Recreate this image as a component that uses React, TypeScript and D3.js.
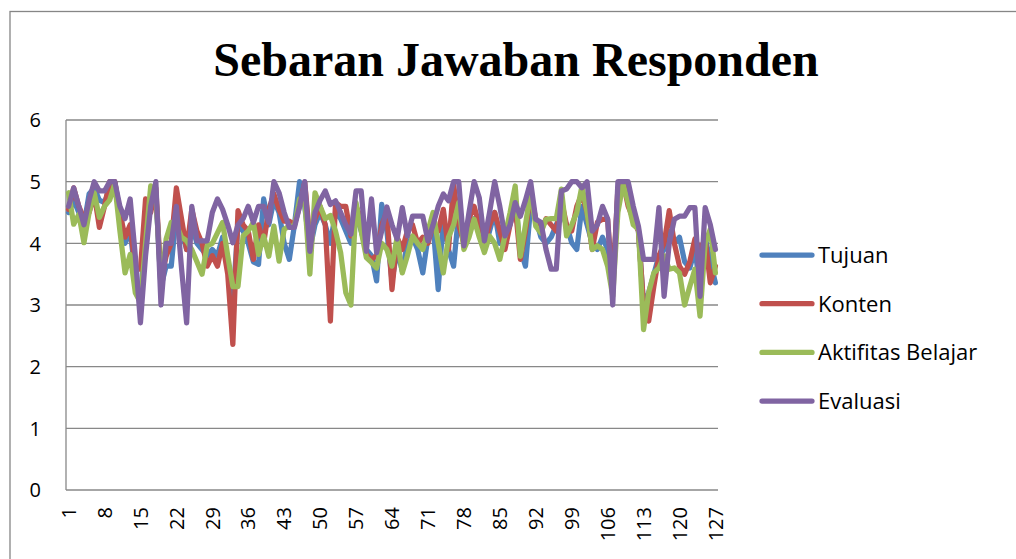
import React from "react";
import * as d3 from "d3";

// responden 1..127
const respondents = d3.range(1, 128);
const xTickLabels = [1, 8, 15, 22, 29, 36, 43, 50, 57, 64, 71, 78, 85, 92, 99, 106, 113, 120, 127];
const yTicks = [0, 1, 2, 3, 4, 5, 6];

const tujuan = [
  4.5, 4.7, 4.5, 4.3, 4.8, 4.9, 4.7, 4.66, 4.9, 5.0,
  4.5, 4.0, 4.2, 3.5, 3.0, 4.3, 4.6, 4.8, 3.3, 3.63,
  3.63, 4.5, 4.2, 3.9, 4.3, 4.0, 3.9, 3.8, 3.9, 3.8,
  4.1, 3.6, 3.04, 4.3, 4.2, 4.0, 3.7, 3.66, 4.72, 4.3,
  4.7, 4.5, 4.0, 3.74, 4.3, 5.0, 4.6, 3.9, 4.3, 4.5,
  4.3, 4.0, 4.5, 4.4, 4.2, 4.0, 4.5, 4.2, 3.9, 3.8,
  3.39, 4.63, 4.2, 3.39, 3.9, 3.55, 4.0, 4.1, 3.9, 3.52,
  4.1, 4.3, 3.25, 4.4, 3.9, 3.63, 4.5, 4.0, 4.3, 4.4,
  4.2, 3.9, 4.2, 4.5, 4.0, 4.1, 4.4, 4.7, 3.9, 3.63,
  4.6, 4.4, 4.1, 4.0, 4.1, 4.3, 4.5, 4.3, 4.01, 3.9,
  4.6, 4.3, 4.0, 3.9, 4.1, 3.9, 3.3, 4.8, 5.0, 4.8,
  4.5, 4.2, 3.0, 3.2, 3.5, 3.8, 3.9, 4.2, 4.0, 4.1,
  3.7, 3.6, 3.9, 3.3, 4.1, 3.7, 3.36,
];

const konten = [
  4.55, 4.9, 4.6, 4.4, 4.5, 4.8, 4.26, 4.6, 5.0, 5.0,
  4.5, 4.1, 4.3, 3.58, 3.58, 4.72, 4.5, 4.9, 3.4, 3.79,
  4.0, 4.9, 4.4, 3.9, 4.55, 4.2, 4.0, 3.63, 3.8, 3.63,
  4.0, 3.5, 2.36, 4.53, 4.3, 4.2, 3.74, 4.3, 4.0, 4.55,
  4.8, 4.55, 4.36, 4.36, 4.3, 4.6, 4.99, 4.07, 4.4, 4.6,
  4.3, 2.74, 4.66, 4.6, 4.6, 4.12, 4.6, 4.4, 3.82, 3.74,
  3.8, 4.3, 4.5, 3.25, 4.1, 3.9, 4.2, 4.3, 4.0, 4.1,
  4.0, 4.3, 4.2, 4.55, 3.9, 4.96, 4.3, 4.0, 4.4, 4.6,
  4.3, 4.0, 4.3, 4.5, 4.2, 3.9, 4.3, 4.6, 3.74, 4.2,
  4.8, 4.4, 4.2, 4.4, 4.3, 4.2, 4.7, 4.3, 4.2, 4.6,
  4.8, 4.5, 3.9, 4.34, 4.39, 4.39, 3.3, 4.9, 5.0, 4.6,
  4.4, 4.2, 3.0, 2.74, 3.3, 3.8, 4.0, 4.53, 4.0, 3.63,
  3.5, 3.7, 4.07, 3.9, 4.07, 3.36, 3.63,
];

const aktifitas = [
  4.82, 4.31, 4.47, 4.01, 4.5, 4.82, 4.42, 4.6, 4.7, 4.96,
  4.2, 3.52, 3.82, 3.2, 3.04, 4.0, 4.93, 4.8, 3.3, 4.07,
  4.34, 4.3, 4.1, 4.04, 3.9, 3.7, 3.5, 3.96, 4.0, 4.17,
  4.34, 3.8, 3.3, 3.3, 4.12, 4.2, 4.34, 3.82, 4.12, 3.79,
  4.28, 3.71, 4.23, 4.28, 4.28, 4.72, 4.72, 3.5, 4.82, 4.6,
  4.4, 4.45, 4.2, 3.85, 3.2, 3.0, 4.66, 4.2, 3.77, 3.69,
  3.6, 4.0, 3.9, 3.63, 4.1, 3.52, 3.8, 4.12, 4.0, 3.9,
  4.2, 4.5, 4.0, 3.52, 4.1, 4.3, 4.66, 3.9, 4.1, 4.39,
  4.1, 3.85, 4.12, 4.0, 3.74, 4.12, 4.5, 4.93, 3.79, 4.3,
  4.85, 4.28, 4.17, 4.39, 4.4, 4.4, 4.88, 4.12, 4.3, 4.5,
  4.93, 4.5, 3.9, 3.96, 3.9, 3.63, 3.14, 4.5, 4.96, 4.66,
  4.3, 4.23, 2.6, 3.2, 3.52, 3.6, 3.8, 3.58, 3.6, 3.52,
  3.0, 3.3, 3.58, 2.82, 4.0, 4.23, 3.52,
];

const evaluasi = [
  4.6, 4.9, 4.6, 4.3, 4.7, 5.0, 4.85, 4.85, 5.0, 5.0,
  4.6, 4.4, 4.72, 3.8, 2.71, 3.8, 4.6, 5.0, 3.0, 4.0,
  4.0, 4.6, 3.6, 2.71, 4.6, 4.04, 4.04, 4.04, 4.5, 4.72,
  4.55, 4.3, 4.01, 4.3, 4.4, 4.6, 4.34, 4.6, 4.6, 4.34,
  5.0, 4.82, 4.5, 4.26, 4.26, 4.6, 5.0, 3.87, 4.5, 4.7,
  4.85, 4.63, 4.69, 4.5, 4.3, 4.15, 4.85, 4.85, 3.87, 4.72,
  3.85, 4.2, 4.59, 4.3, 4.07, 4.58, 4.12, 4.44, 4.44, 4.44,
  4.04, 4.3, 4.6, 4.8, 4.69, 5.0, 5.0, 3.96, 4.5, 5.0,
  4.74, 4.04, 4.5, 5.0, 4.6, 4.12, 4.3, 4.66, 4.44, 4.7,
  5.0, 4.39, 4.34, 3.9, 3.58, 3.58, 4.85, 4.88, 5.0, 5.0,
  4.9, 5.0, 4.2, 4.3, 4.6, 4.4, 3.0, 5.0, 5.0, 5.0,
  4.6, 4.28, 3.74, 3.74, 3.74, 4.58, 3.14, 4.0, 4.39, 4.44,
  4.44, 4.58, 4.58, 3.14, 4.58, 4.3, 3.9,
];

const seriesNames = ["Tujuan", "Konten", "Aktifitas Belajar", "Evaluasi"];
const seriesValues = [tujuan, konten, aktifitas, evaluasi];
const seriesColors = ["#4F81BD", "#C0504D", "#9BBB59", "#8064A2"];

const W = 1016;
const H = 559;
const plot = { left: 66, right: 718, top: 120, bottom: 490 };
const axisFont = "'Open Sans', sans-serif";

export default function App() {
  const x = d3
    .scalePoint<number>()
    .domain(respondents)
    .range([plot.left, plot.right])
    .padding(0.5);

  const y = d3.scaleLinear().domain([0, 6]).range([plot.bottom, plot.top]);

  const line = d3
    .line<number>()
    .x((_, i) => x(respondents[i]) as number)
    .y((d) => y(d));

  return (
    <svg
      width={W}
      height={H}
      style={{ position: "absolute", left: 0, top: 0, background: "#fff" }}
    >
      {/* chart frame */}
      <rect x={10} y={11.5} width={1020} height={600} fill="#fff" stroke="#868686" strokeWidth={1.3} />

      <text
        x={516}
        y={76}
        textAnchor="middle"
        fontFamily="'Liberation Serif', serif"
        fontWeight="bold"
        fontSize={48}
        fill="#000"
      >
        Sebaran Jawaban Responden
      </text>

      {/* gridlines */}
      {yTicks.slice(1).map((t) => (
        <line key={t} x1={plot.left} x2={plot.right} y1={y(t)} y2={y(t)} stroke="#888" strokeWidth={1.3} />
      ))}
      <line x1={plot.left} x2={plot.right} y1={plot.bottom} y2={plot.bottom} stroke="#888" strokeWidth={1.3} />
      <line x1={plot.left} x2={plot.left} y1={plot.top} y2={plot.bottom} stroke="#888" strokeWidth={1.3} />

      {/* y labels */}
      {yTicks.map((t) => (
        <text
          key={t}
          x={41}
          y={y(t)}
          dy="0.36em"
          textAnchor="end"
          fontFamily={axisFont}
          fontSize={20}
          fill="#000"
        >
          {t}
        </text>
      ))}

      {/* x labels */}
      {xTickLabels.map((t) => (
        <text
          key={t}
          transform={`translate(${x(t)},${507}) rotate(-90)`}
          dy="0.36em"
          textAnchor="end"
          fontFamily={axisFont}
          fontSize={20}
          fill="#000"
        >
          {t}
        </text>
      ))}

      {/* series */}
      {seriesValues.map((vals, k) => (
        <path
          key={seriesNames[k]}
          d={line(vals) || ""}
          fill="none"
          stroke={seriesColors[k]}
          strokeWidth={5.25}
          strokeLinejoin="round"
          strokeLinecap="round"
        />
      ))}

      {/* legend */}
      {seriesNames.map((name, k) => {
        const ly = 255 + k * 48.7;
        return (
          <g key={name}>
            <line x1={762} x2={812} y1={ly} y2={ly} stroke={seriesColors[k]} strokeWidth={5.25} strokeLinecap="round" />
            <text x={818} y={ly} dy="0.36em" fontFamily={axisFont} fontSize={22} fill="#000">
              {name}
            </text>
          </g>
        );
      })}
    </svg>
  );
}
